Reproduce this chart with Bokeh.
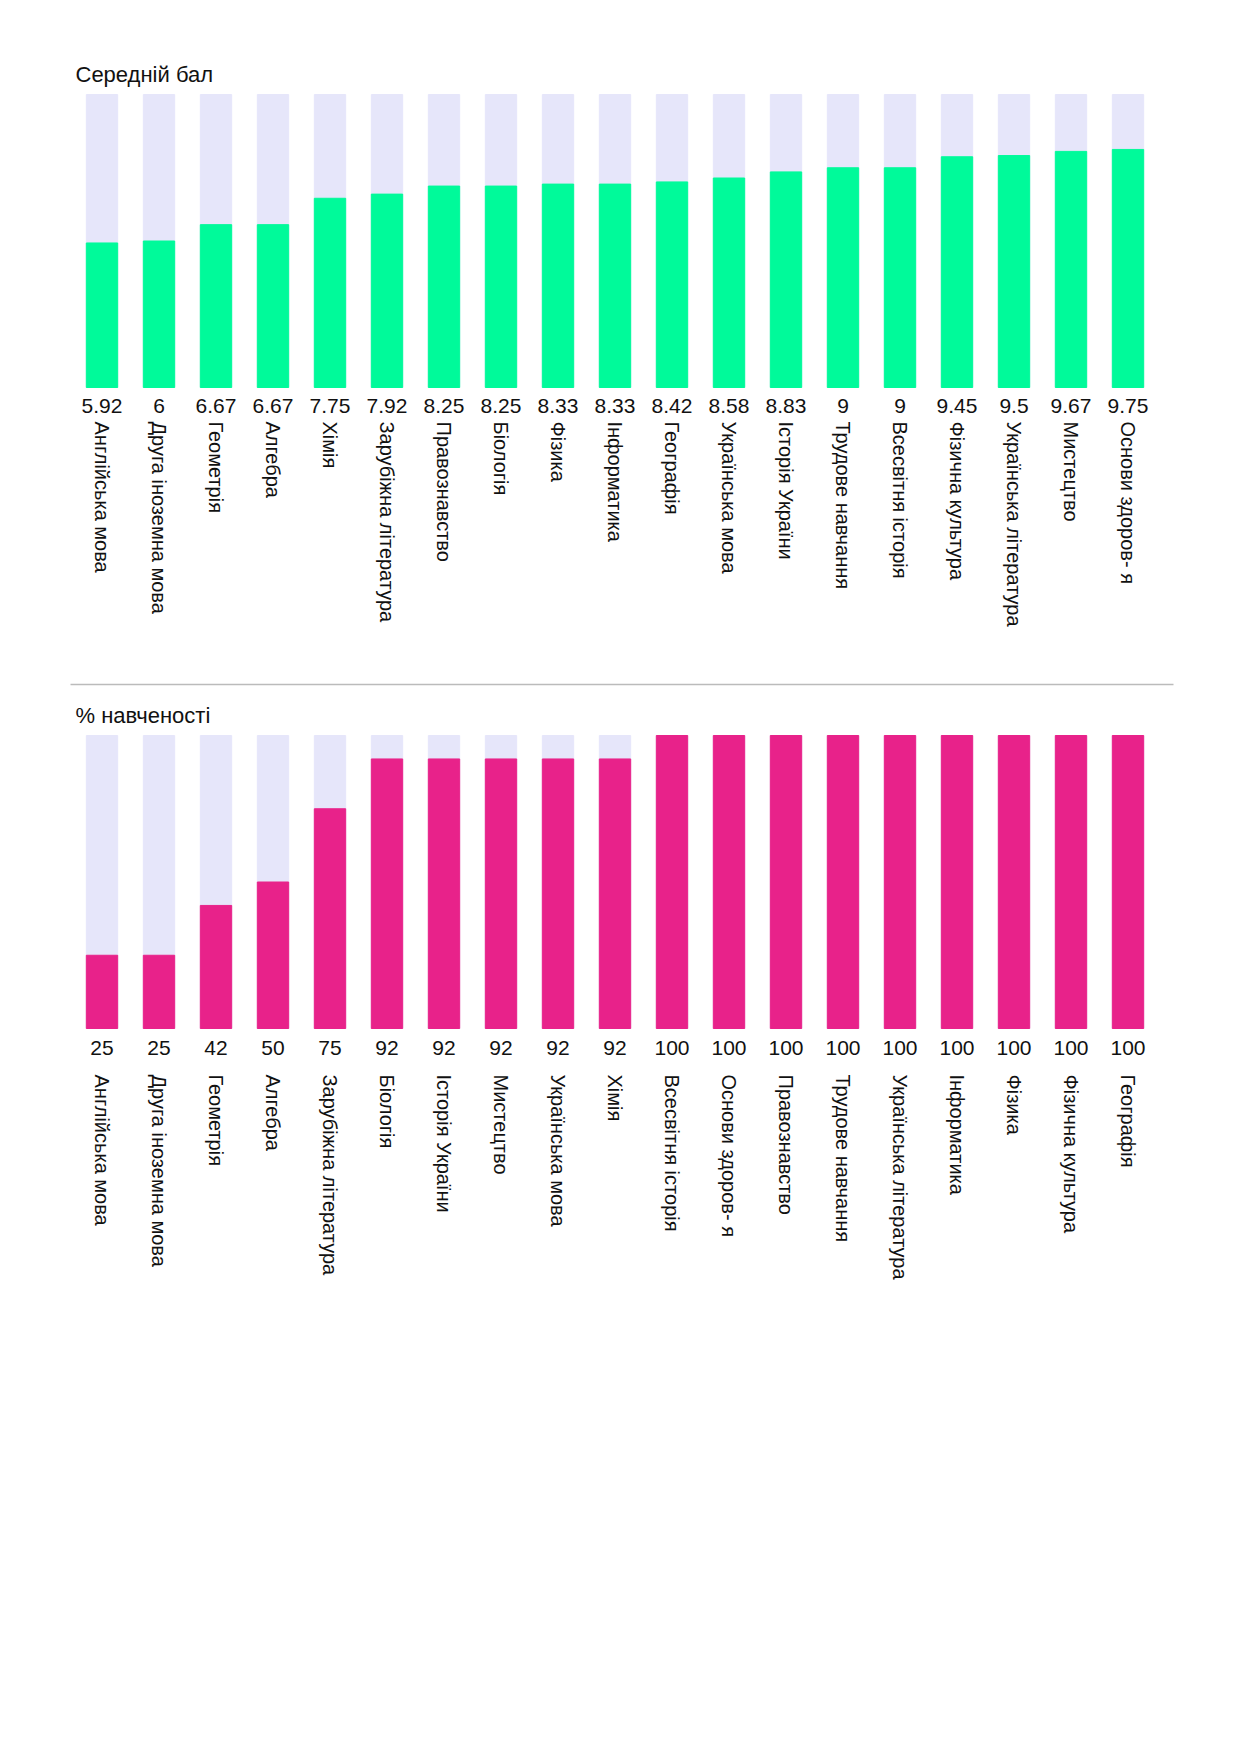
import math
from bokeh.plotting import figure
from bokeh.layouts import column
from bokeh.models import ColumnDataSource
from bokeh.core.properties import value
from bokeh.embed import file_html
from bokeh.resources import INLINE

cats1 = ["Англійська мова","Друга іноземна мова","Геометрія","Алгебра","Хімія","Зарубіжна література",
         "Правознавство","Біологія","Фізика","Інформатика","Географія","Українська мова","Історія України",
         "Трудове навчання","Всесвітня історія","Фізична культура","Українська література","Мистецтво","Основи здоров-  я"]
vals1 = [5.92,6,6.67,6.67,7.75,7.92,8.25,8.25,8.33,8.33,8.42,8.58,8.83,9,9,9.45,9.5,9.67,9.75]
lab1 = ["5.92","6","6.67","6.67","7.75","7.92","8.25","8.25","8.33","8.33","8.42","8.58","8.83","9","9","9.45","9.5","9.67","9.75"]
cats2 = ["Англійська мова","Друга іноземна мова","Геометрія","Алгебра","Зарубіжна література","Біологія",
         "Історія України","Мистецтво","Українська мова","Хімія","Всесвітня історія","Основи здоров-  я",
         "Правознавство","Трудове навчання","Українська література","Інформатика","Фізика","Фізична культура","Географія"]
vals2 = [25,25,42,50,75,92,92,92,92,92,100,100,100,100,100,100,100,100,100]
max1, max2 = 12, 100

W = 1224
PITCH = 57.0
XS = -101.5 / PITCH
XE = XS + W / PITCH
FONT = "Liberation Sans"

def make(cats, vals, labels, vmax, color, title, ppu, top_px, h, title_px, val_px, lab_px, sep_px=None):
    ytop = vmax + top_px / ppu
    ybot = ytop - h / ppu
    p = figure(width=W, height=h, x_range=(XS, XE), y_range=(ybot, ytop),
               output_backend="svg", toolbar_location=None, min_border=0)
    p.axis.visible = False
    p.grid.visible = False
    p.outline_line_color = None
    xs = list(range(len(cats)))
    src = ColumnDataSource(dict(x=xs, v=vals, m=[vmax]*len(xs), lab=labels, cat=cats))
    p.vbar(x="x", top="m", bottom=0, width=0.55, color="#E6E6FA", source=src)
    p.vbar(x="x", top="v", bottom=0, width=0.55, color=color, source=src)
    ty = vmax - (title_px - top_px) / ppu
    p.text(x=[XS + 75/PITCH], y=[ty], text=[title], text_font=value(FONT), text_font_size="22px",
           text_baseline="middle", text_align="left", text_color="#111111")
    p.text(x="x", y=-(val_px / ppu), text="lab", source=src, text_font=value(FONT), text_font_size="21px",
           text_align="center", text_baseline="middle", text_color="#111111")
    p.text(x="x", y=-(lab_px / ppu), text="cat", source=src, angle=-math.pi/2, text_font=value(FONT),
           text_font_size="20px", text_align="left", text_baseline="middle", text_color="#111111")
    if sep_px is not None:
        ys = -(sep_px / ppu)
        p.line(x=[XS + 70/PITCH, XS + 1173/PITCH], y=[ys, ys], line_color="#BBBBBB", line_width=1.5)
    return p

ppu1 = 293 / max1
p1 = make(cats1, vals1, lab1, max1, "#00FA9A", "Середній бал", ppu1, 94, 690, 74, 18, 34, 297)
ppu2 = 293 / max2
p2 = make(cats2, vals2, [str(v) for v in vals2], max2, "#E8228A", "% навченості", ppu2, 45, 710, 25, 19, 46)

open("out.html", "w").write(file_html(column(p1, p2, spacing=0), INLINE))
